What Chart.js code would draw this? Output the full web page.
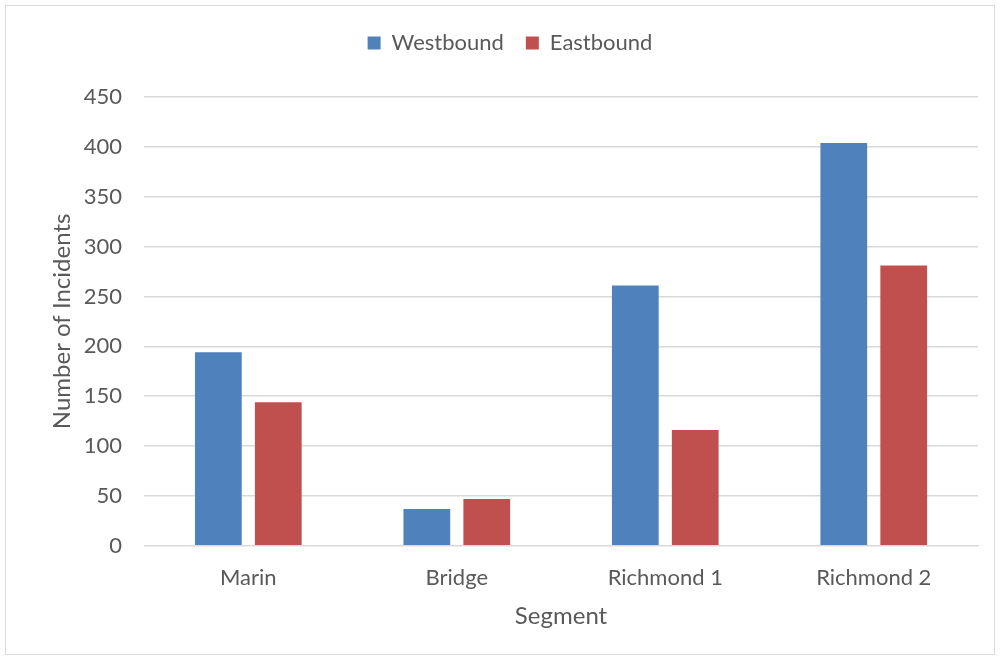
<!DOCTYPE html>
<html>
<head>
<meta charset="utf-8">
<script src="https://cdn.jsdelivr.net/npm/chart.js@4"></script>
<style>
  html, body { margin: 0; padding: 0; background: #fff; }
  #frame { position: absolute; left: 5px; top: 5px; width: 988px; height: 648px; border: 1px solid #d9d9d9; }
  #chart { display: block; }
</style>
</head>
<body>
<div id="frame"><canvas id="chart" width="988" height="648"></canvas></div>
<script>
const segments = ['Marin', 'Bridge', 'Richmond 1', 'Richmond 2'];
const westbound = [194, 37, 261, 404];
const eastbound = [144, 47, 116, 281];
const yTicks = [0, 50, 100, 150, 200, 250, 300, 350, 400, 450];

const fontFamily = 'Lato, "Open Sans", sans-serif';
const textColor = '#595959';

// push the plot area down below the legend
const legendGap = {
  id: 'legendGap',
  beforeInit(chart) {
    const fit = chart.legend.fit;
    chart.legend.fit = function () {
      fit.bind(chart.legend)();
      this.height += 33;
    };
  }
};

const ctx = document.getElementById('chart').getContext('2d');
new Chart(ctx, {
  type: 'bar',
  data: {
    labels: segments,
    datasets: [
      { label: 'Westbound', data: westbound, backgroundColor: '#4f81bd' },
      { label: 'Eastbound', data: eastbound, backgroundColor: '#c0504d' }
    ]
  },
  plugins: [legendGap],
  options: {
    responsive: false,
    animation: false,
    categoryPercentage: 0.575,
    barPercentage: 0.78,
    layout: { padding: { left: 36, right: 16, top: 4, bottom: 23 } },
    plugins: {
      legend: {
        position: 'top',
        labels: {
          font: { family: fontFamily, size: 22 },
          color: textColor,
          boxWidth: 13,
          boxHeight: 13,
          padding: 22
        }
      },
      tooltip: { enabled: false }
    },
    scales: {
      x: {
        grid: { display: false, drawTicks: false },
        border: { color: '#d9d9d9' },
        ticks: { font: { family: fontFamily, size: 22 }, color: textColor, padding: 19 },
        title: { display: true, text: 'Segment', font: { family: fontFamily, size: 24 }, color: textColor, padding: { top: -8, bottom: 0 } }
      },
      y: {
        min: 0,
        max: 450,
        afterBuildTicks: scale => { scale.ticks = yTicks.map(v => ({ value: v })); },
        grid: { color: '#d9d9d9', lineWidth: 1.5, drawTicks: false },
        border: { display: false },
        ticks: { font: { family: fontFamily, size: 22 }, color: textColor, padding: 22 },
        title: { display: true, text: 'Number of Incidents', font: { family: fontFamily, size: 24 }, color: textColor, padding: { top: 6, bottom: -15 } }
      }
    }
  }
});
</script>
</body>
</html>
